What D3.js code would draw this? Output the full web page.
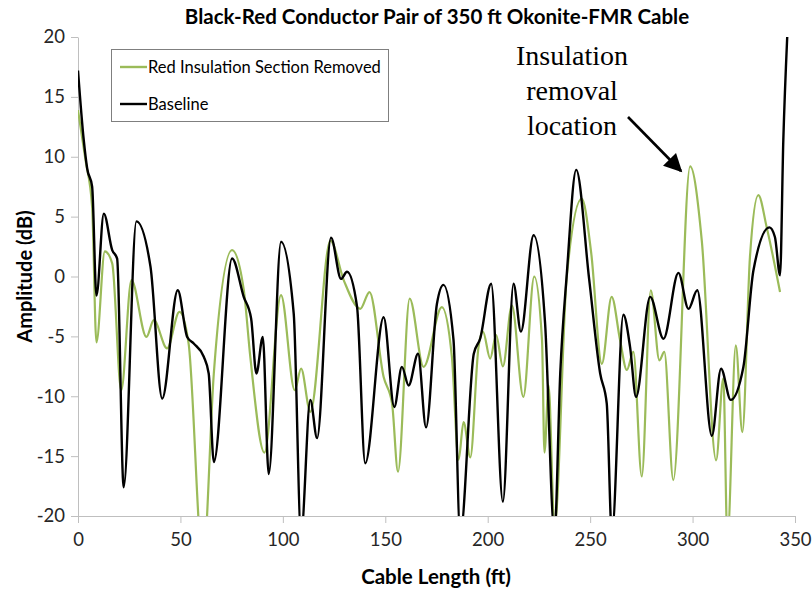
<!DOCTYPE html>
<html>
<head>
<meta charset="utf-8">
<script src="https://cdn.jsdelivr.net/npm/d3@7"></script>
<style>
  body { margin: 0; background: #fff; }
  svg { display: block; }
</style>
</head>
<body>
<div id="chart"></div>
<script>
'use strict';

// chart data
const titleText = 'Black-Red Conductor Pair of 350 ft Okonite-FMR Cable';
const seriesNames = ['Red Insulation Section Removed', 'Baseline'];
const xTicks = [0, 50, 100, 150, 200, 250, 300, 350];
const yTicks = [-20, -15, -10, -5, 0, 5, 10, 15, 20];

const baselineLength = [0, 2.8, 4.5, 6.9, 9.0, 12.6, 16.7, 19.1, 22.3, 28.5, 35.4, 41.1, 48.7, 53.3, 56.5,
  61.4, 63.8, 66.3, 75.2, 80.9, 84.5, 87.1, 90.2, 93.1, 99.1, 105.3, 108.9, 113.4, 116.7, 123.5, 128.4,
  131.3, 136.2, 140.2, 149.2, 154.4, 158.1, 161.4, 166.0, 169.9, 175.2, 178.4, 183.3, 186.6, 193.2, 196.3,
  201.7, 207.4, 212.6, 216.2, 222.4, 228.0, 232.6, 235.4, 238.6, 243.2, 249.5, 254.9, 258.1, 260.6, 266.2,
  269.5, 272.4, 279.3, 285.8, 293.1, 298.0, 302.3, 309.4, 313.9, 318.6, 324.8, 329.7, 337.5, 340.2, 342.7,
  344.3, 346.2];
const baselineAmp = [17.2, 11.4, 9.0, 7.5, -1.6, 5.25, 2.2, 1.5, -17.6, 4.6, 0.8, -10.2, -1.15, -5.05, -5.6,
  -6.7, -8.1, -15.5, 1.5, -1.7, -3.5, -8.1, -5.05, -16.5, 2.9, -3.1, -21.5, -10.3, -13.5, 3.25, -0.2,
  0.4, -2.5, -15.6, -3.4, -10.9, -7.55, -9.1, -6.45, -12.6, -2.3, -0.7, -5.3, -21.5, -6.45, -5.2,
  -0.6, -18.8, -0.6, -4.6, 3.45, -3.9, -21.5, -8.1, 0.2, 8.9, -0.2, -8.1, -10.6, -21.5, -3.2,
  -5.9, -10.05, -1.7, -5.2, 0.3, -2.7, -1.15, -13.3, -7.7, -10.3, -7.55, 0.5, 4.1, 3.3, 0.1,
  11.4, 20];

const removedLength = [0, 3.7, 6.9, 9.0, 13.1, 16.7, 21.1, 26.1, 33.4, 37.0, 43.5, 49.5, 54.0, 61.0, 66.3,
  75.2, 80.9, 84.1, 91.0, 99.1, 105.8, 108.9, 113.4, 123.2, 129.7, 137.8, 142.3, 149.2, 153.3, 156.2,
  161.9, 168.7, 177.6, 182.5, 185.8, 188.2, 191.5, 195.5, 197.7, 201.2, 204.1, 207.4, 211.8, 217.4, 222.7,
  226.5, 227.7, 229.7, 232.6, 238.6, 245.9, 250.5, 255.7, 260.5, 264.6, 267.9, 271.1, 275.2, 279.6, 283.8,
  286.2, 290.6, 298.8, 304.5, 311.5, 315.0, 317.0, 321.1, 324.3, 328.0, 332.1, 336.2, 342.7];
const removedAmp = [13.9, 9.7, 5.8, -5.5, 2.1, 1.1, -9.5, -0.3, -5.05, -3.65, -6.0, -2.95, -5.6, -24, -8.1,
  2.2, -1.1, -6.7, -14.7, -1.55, -9.5, -7.7, -11.3, 3.0, -0.3, -2.7, -1.3, -8.4, -10.6, -16.3,
  -1.85, -7.55, -2.55, -6.7, -15.3, -12.15, -15.1, -5.9, -4.6, -6.85, -4.9, -7.5, -2.4, -10.05, 0,
  -5.3, -14.7, -9.1, -21, 0, 6.5, 2.0, -7.3, -1.7, -5.3, -7.8, -6.3, -16.7, -1.15, -7.0,
  -6.3, -17.0, 9.2, 3.0, -15.35, -8.5, -22, -5.75, -13.0, 1.6, 6.8, 4.1, -1.3];

const annotationLines = ['Insulation', 'removal', 'location'];

const width = 812;
const height = 590;
const margin = { top: 37, right: 17, bottom: 74, left: 78 };

const svg = d3.select('#chart').append('svg')
  .attr('width', width)
  .attr('height', height)
  .attr('viewBox', `0 0 ${width} ${height}`);

const x = d3.scaleLinear().domain([0, 350]).range([margin.left, width - margin.right]);
const y = d3.scaleLinear().domain([-20, 20]).range([height - margin.bottom, margin.top]);

const font = 'Lato, "Open Sans", sans-serif';
const axisGrey = '#bfbfbf';

// axes (plain hyphen for negatives, like the original)
const yAxis = svg.append('g')
  .attr('transform', `translate(${x(0)},0)`)
  .call(d3.axisLeft(y).tickValues(yTicks).tickFormat(d => String(d))
    .tickSize(7).tickSizeOuter(0).tickPadding(6));
const xAxis = svg.append('g')
  .attr('transform', `translate(0,${y(-20)})`)
  .call(d3.axisBottom(x).tickValues(xTicks).tickFormat(d => String(d))
    .tickSize(7).tickSizeOuter(0).tickPadding(10));

[yAxis, xAxis].forEach(g => {
  g.select('.domain').attr('stroke', axisGrey);
  g.selectAll('.tick line').attr('stroke', axisGrey);
  g.selectAll('.tick text')
    .attr('fill', '#262626')
    .style('font-family', font)
    .style('font-size', '18.5px');
});

// lines
svg.append('clipPath').attr('id', 'plot-clip')
  .append('rect')
  .attr('x', x(0)).attr('y', y(20) - 2)
  .attr('width', x(350) - x(0)).attr('height', y(-20) - y(20) + 2);

const line = d3.line()
  .x(d => x(d[0]))
  .y(d => y(d[1]))
  .curve(d3.curveMonotoneX);

const removed = removedLength.map((v, i) => [v, removedAmp[i]]);
const baseline = baselineLength.map((v, i) => [v, baselineAmp[i]]);

const plot = svg.append('g').attr('clip-path', 'url(#plot-clip)');
plot.append('path')
  .datum(removed)
  .attr('fill', 'none')
  .attr('stroke', '#9bbb59')
  .attr('stroke-width', 2.2)
  .attr('d', line);
plot.append('path')
  .datum(baseline)
  .attr('fill', 'none')
  .attr('stroke', '#000')
  .attr('stroke-width', 2.4)
  .attr('d', line);

// title and axis labels
svg.append('text')
  .attr('x', 437).attr('y', 24)
  .attr('text-anchor', 'middle')
  .style('font-family', font).style('font-weight', 'bold').style('font-size', '20.5px')
  .text(titleText);

svg.append('text')
  .attr('x', 436).attr('y', 584)
  .attr('text-anchor', 'middle')
  .style('font-family', font).style('font-weight', 'bold').style('font-size', '20.5px')
  .text('Cable Length (ft)');

svg.append('text')
  .attr('transform', `translate(32,${y(0)}) rotate(-90)`)
  .attr('text-anchor', 'middle')
  .style('font-family', font).style('font-weight', 'bold').style('font-size', '20px')
  .text('Amplitude (dB)');

// legend
const legend = svg.append('g');
legend.append('rect')
  .attr('x', 111.5).attr('y', 49.5)
  .attr('width', 277).attr('height', 72)
  .attr('fill', '#fff')
  .attr('stroke', '#7f7f7f');

const legendRows = [
  { name: seriesNames[0], color: '#9bbb59', y: 67 },
  { name: seriesNames[1], color: '#000', y: 104 }
];
legendRows.forEach(r => {
  legend.append('line')
    .attr('x1', 120).attr('x2', 147)
    .attr('y1', r.y).attr('y2', r.y)
    .attr('stroke', r.color).attr('stroke-width', 2.4);
  legend.append('text')
    .attr('x', 148).attr('y', r.y + 5.5)
    .style('font-family', font).style('font-size', '16.5px')
    .attr('fill', '#000')
    .text(r.name);
});

// annotation
const defs = svg.append('defs');
defs.append('marker')
  .attr('id', 'arrow')
  .attr('viewBox', '0 0 10 10')
  .attr('refX', 9).attr('refY', 5)
  .attr('markerWidth', 8).attr('markerHeight', 7)
  .attr('markerUnits', 'strokeWidth')
  .attr('orient', 'auto')
  .append('path')
  .attr('d', 'M0,0L10,5L0,10z')
  .attr('fill', '#000');

svg.append('line')
  .attr('x1', 628).attr('y1', 117)
  .attr('x2', 681).attr('y2', 171)
  .attr('stroke', '#000').attr('stroke-width', 2.6)
  .attr('marker-end', 'url(#arrow)');

svg.append('g').selectAll('text')
  .data(annotationLines)
  .join('text')
  .attr('x', 572)
  .attr('y', (d, i) => 65 + i * 35)
  .attr('text-anchor', 'middle')
  .style('font-family', '"Liberation Serif", "Times New Roman", serif')
  .style('font-size', '28px')
  .text(d => d);
</script>
</body>
</html>
